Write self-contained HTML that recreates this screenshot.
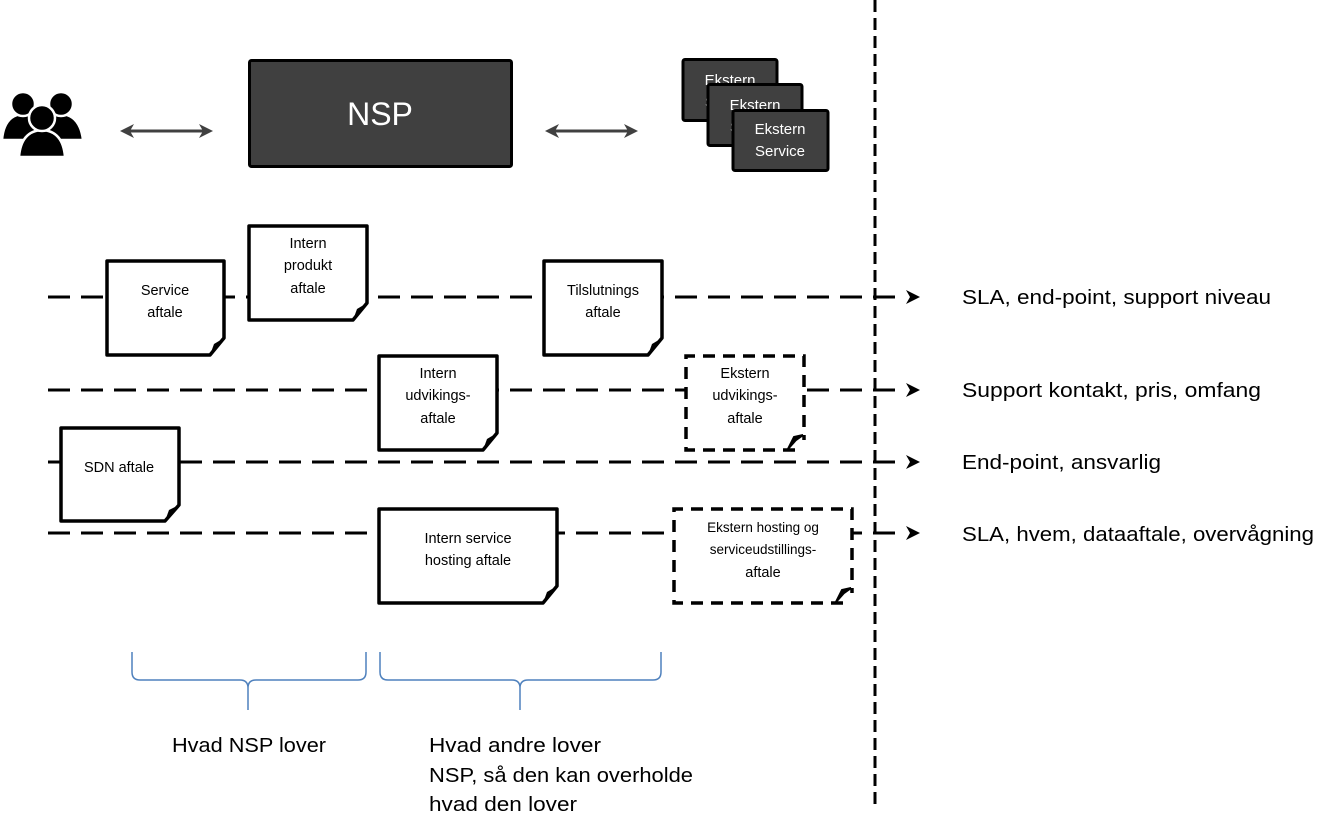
<!DOCTYPE html>
<html><head><meta charset="utf-8"><style>
html,body{margin:0;padding:0;background:#fff;}
svg{display:block;}
text{font-family:"Liberation Sans",sans-serif;}
</style></head><body>
<svg width="1335" height="829" viewBox="0 0 1335 829" xmlns="http://www.w3.org/2000/svg">
<!-- people icon -->
<g fill="#000" stroke="#fff" stroke-width="2.5">
<path d="M2,140 Q4,115 23,114 Q42,115 44,140 Z"/>
<circle cx="23" cy="104" r="12"/>
<path d="M40,140 Q42,115 61,114 Q80,115 83,140 Z"/>
<circle cx="61" cy="104" r="12"/>
<path d="M19,157 Q21,131 42,130 Q63,131 65,157 Z"/>
<circle cx="42" cy="118" r="13"/>
</g>
<!-- arrows -->
<g stroke="#404040" stroke-width="3" fill="#404040">
<line x1="125" y1="131" x2="208" y2="131"/>
<path d="M120,131 L134,124 L130,131 L134,138 Z" stroke="none"/>
<path d="M213,131 L199,124 L203,131 L199,138 Z" stroke="none"/>
<line x1="550" y1="131" x2="633" y2="131"/>
<path d="M545,131 L559,124 L555,131 L559,138 Z" stroke="none"/>
<path d="M638,131 L624,124 L628,131 L624,138 Z" stroke="none"/>
</g>
<!-- NSP -->
<rect x="249.5" y="60.5" width="262" height="106" rx="2" fill="#404040" stroke="#000" stroke-width="3"/>
<text x="380" y="125" font-size="32" fill="#fff" text-anchor="middle">NSP</text>
<!-- Ekstern -->
<rect x="683" y="59.5" width="94" height="61" rx="2" fill="#404040" stroke="#000" stroke-width="3"/>
<text x="730" y="85" font-size="15" fill="#fff" text-anchor="middle">Ekstern</text>
<text x="730" y="107" font-size="15" fill="#fff" text-anchor="middle">Service</text>
<rect x="708" y="84.5" width="94" height="61" rx="2" fill="#404040" stroke="#000" stroke-width="3"/>
<text x="755" y="110" font-size="15" fill="#fff" text-anchor="middle">Ekstern</text>
<text x="755" y="132" font-size="15" fill="#fff" text-anchor="middle">Service</text>
<rect x="733" y="110.5" width="95" height="60" rx="2" fill="#404040" stroke="#000" stroke-width="3"/>
<text x="780" y="134" font-size="15" fill="#fff" text-anchor="middle">Ekstern</text>
<text x="780" y="156" font-size="15" fill="#fff" text-anchor="middle">Service</text>
<!-- vertical dashed line -->
<line x1="875" y1="0" x2="875" y2="805" stroke="#000" stroke-width="3" stroke-dasharray="12,6"/>
<!-- horizontal dashed lines -->
<g stroke="#000" stroke-width="3" stroke-dasharray="22,11">
<line x1="48" y1="297" x2="903" y2="297"/>
<line x1="48" y1="390" x2="903" y2="390"/>
<line x1="48" y1="462" x2="903" y2="462"/>
<line x1="48" y1="533" x2="903" y2="533"/>
</g>
<g fill="#000">
<path d="M920,297 L906,290 L910,297 L906,304 Z"/>
<path d="M920,390 L906,383 L910,390 L906,397 Z"/>
<path d="M920,462 L906,455 L910,462 L906,469 Z"/>
<path d="M920,533 L906,526 L910,533 L906,540 Z"/>
</g>
<!-- notes -->
<g stroke="#000" stroke-width="3.5" fill="#fff" stroke-linejoin="round">
<path d="M107,261 H224 V338 L210,355 H107 Z"/>
<path d="M249,226 H367 V303 L353,320 H249 Z"/>
<path d="M544,261 H662 V338 L648,355 H544 Z"/>
<path d="M379,356 H497 V433 L483,450 H379 Z"/>
<path d="M61,428 H179 V505 L165,521 H61 Z"/>
<path d="M379,509 H557 V586 L543,603 H379 Z"/>
</g>
<g fill="#000">
<path d="M210,355 L214,344 L224,338 Z"/>
<path d="M353,320 L357,309 L367,303 Z"/>
<path d="M648,355 L652,344 L662,338 Z"/>
<path d="M483,450 L487,439 L497,433 Z"/>
<path d="M165,521 L169,510 L179,505 Z"/>
<path d="M543,603 L547,592 L557,586 Z"/>
</g>
<!-- dashed notes -->
<rect x="686" y="356" width="118" height="94" fill="#fff"/>
<rect x="674" y="509" width="178" height="94" fill="#fff"/>
<g stroke="#000" stroke-width="3.5" fill="none" stroke-dasharray="12,8">
<path d="M795,450 H686 V356 H804 V440"/>
<path d="M843,603 H674 V509 H852 V593"/>
</g>
<path d="M788,449 L794,437 L803,435 L796,440 Z" fill="#000" stroke="#000" stroke-width="2"/>
<path d="M836,602 L842,590 L851,588 L844,593 Z" fill="#000" stroke="#000" stroke-width="2"/>
<g font-size="14.5" fill="#000" text-anchor="middle">
<text x="165" y="295">Service</text><text x="165" y="317">aftale</text>
<text x="308" y="248">Intern</text><text x="308" y="270">produkt</text><text x="308" y="293">aftale</text>
<text x="603" y="295">Tilslutnings</text><text x="603" y="317">aftale</text>
<text x="438" y="378">Intern</text><text x="438" y="400">udvikings-</text><text x="438" y="423">aftale</text>
<text x="745" y="378">Ekstern</text><text x="745" y="400">udvikings-</text><text x="745" y="423">aftale</text>
<text x="119" y="472">SDN aftale</text>
<text x="468" y="543">Intern service</text><text x="468" y="565">hosting aftale</text>
<text x="763" y="532" font-size="13.5">Ekstern hosting og</text>
<text x="763" y="554" font-size="13.5">serviceudstillings-</text>
<text x="763" y="577">aftale</text>
</g>
<!-- right labels -->
<g font-size="20" fill="#000">
<text x="962" y="304" textLength="309" lengthAdjust="spacingAndGlyphs">SLA, end-point, support niveau</text>
<text x="962" y="397" textLength="299" lengthAdjust="spacingAndGlyphs">Support kontakt,  pris, omfang</text>
<text x="962" y="469" textLength="199" lengthAdjust="spacingAndGlyphs">End-point, ansvarlig</text>
<text x="962" y="541" textLength="352" lengthAdjust="spacingAndGlyphs">SLA, hvem, dataaftale, overvågning</text>
</g>
<!-- braces -->
<g stroke="#4f81bd" stroke-width="1.5" fill="none">
<path d="M132,652 V672 Q132,680 140,680 H240 Q248,680 248,688 V710 M248,688 Q248,680 256,680 H358 Q366,680 366,672 V652"/>
<path d="M380,652 V672 Q380,680 388,680 H512 Q520,680 520,688 V710 M520,688 Q520,680 528,680 H653 Q661,680 661,672 V652"/>
</g>
<g font-size="20" fill="#000">
<text x="172" y="752" textLength="154" lengthAdjust="spacingAndGlyphs">Hvad NSP lover</text>
<text x="429" y="752" textLength="172" lengthAdjust="spacingAndGlyphs">Hvad andre lover</text>
<text x="429" y="782" textLength="264" lengthAdjust="spacingAndGlyphs">NSP, så den kan overholde</text>
<text x="429" y="811" textLength="148" lengthAdjust="spacingAndGlyphs">hvad den lover</text>
</g>
</svg>
</body></html>
